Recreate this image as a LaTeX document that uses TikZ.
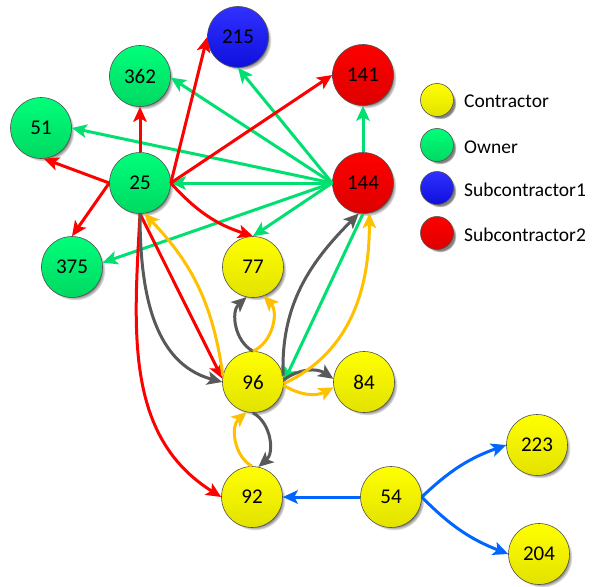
\documentclass[tikz,border=0pt]{standalone}
\usepackage{fontspec}
\setmainfont{Carlito}
\usetikzlibrary{arrows.meta,shadows,shapes.geometric}

\definecolor{cYel}{HTML}{FFFF00}
\definecolor{cYelD}{HTML}{E2E200}
\definecolor{cGrn}{HTML}{00FF7A}
\definecolor{cGrnD}{HTML}{00D862}
\definecolor{cBlu}{HTML}{3030FF}
\definecolor{cBluD}{HTML}{1010DD}
\definecolor{cRed}{HTML}{FF0000}
\definecolor{cRedD}{HTML}{DD0000}
\definecolor{eGrn}{HTML}{00E070}
\definecolor{eRed}{HTML}{FF0000}
\definecolor{eGry}{HTML}{595959}
\definecolor{eOrg}{HTML}{FFC000}
\definecolor{eBlu}{HTML}{0066FF}
\definecolor{rim}{HTML}{505050}

\tikzset{
  agent/.style={circle, minimum size=61pt, inner sep=0pt, draw=rim, line width=0.6pt,
    font=\fontsize{21}{21}\selectfont,
    circular drop shadow={shadow xshift=3pt, shadow yshift=-3pt, shadow scale=1.0}},
  contractor/.style={agent, top color=cYel, bottom color=cYelD},
  owner/.style={agent, top color=cGrn, bottom color=cGrnD},
  subone/.style={agent, top color=cBlu, bottom color=cBluD},
  subtwo/.style={agent, top color=cRed, bottom color=cRedD},
  keydot/.style={minimum size=33pt},
  keytext/.style={anchor=west, inner sep=0pt, font=\fontsize{19.5}{19.5}\selectfont},
  link/.style={line width=3pt, -{Stealth[length=15pt,width=13.5pt,inset=3.5pt]}},
  lgreen/.style={link, eGrn},
  lred/.style={link, eRed},
  lgray/.style={link, eGry},
  lorange/.style={link, eOrg},
  lblue/.style={link, eBlu},
}

\begin{document}
\begin{tikzpicture}[x=1pt,y=-1pt]
\useasboundingbox (0,0) rectangle (609,586);

% agents
\node[subone]     (n215) at (238,37)  {215};
\node[owner]      (n362) at (140,76)  {362};
\node[owner]      (n51)  at (41,128)  {51};
\node[owner]      (n25)  at (140,183) {25};
\node[owner]      (n375) at (72,267)  {375};
\node[contractor] (n77)  at (253,267) {77};
\node[subtwo]     (n141) at (363,75)  {141};
\node[subtwo]     (n144) at (363,183) {144};
\node[contractor] (n96)  at (253,382) {96};
\node[contractor] (n84)  at (364,382) {84};
\node[contractor] (n92)  at (252,497) {92};
\node[contractor] (n54)  at (391,497) {54};
\node[contractor] (n223) at (537,445) {223};
\node[contractor] (n204) at (539,554) {204};

% legend
\node[contractor, keydot] (k1) at (437,100) {};
\node[owner, keydot]      (k2) at (437,145) {};
\node[subone, keydot]     (k3) at (437,188) {};
\node[subtwo, keydot]     (k4) at (437,233) {};
\node[keytext] (t1) at (464,101) {Contractor};
\node[keytext] (t2) at (464,147) {Owner};
\node[keytext] (t3) at (464,190) {Subcontractor1};
\node[keytext] (t4) at (464,235) {Subcontractor2};

% owner links from 144
\draw[lgreen] (n144.west) -- (n215.south);
\draw[lgreen] (n144.west) -- (n362.-3);
\draw[lgreen] (n144.west) -- (n51.east);
\draw[lgreen] (n144.west) -- (n25.east);
\draw[lgreen] (n144.west) -- (n375.8);
\draw[lgreen] (n144.west) -- (n77.north);
\draw[lgreen] (n144.north) -- (n141.south);
\draw[lgreen] (n144.south) -- (n96.east);

% subcontractor2 links from 25
\draw[lred] (n25.east) -- (n215.west);
\draw[lred] (n25.east) -- (n141.west);
\draw[lred] (n25.north) -- (n362.south);
\draw[lred] (n25.west) -- (n51.-85);
\draw[lred] (n25.west) -- (n375.north);
\draw[lred] (n25.east) to[bend right=15] (n77.north);
\draw[lred] (n25.south) -- (n96.174);
\draw[lred] (n25.south) to[out=-93,in=148] (n92.west);

% gray links
\draw[lgray] (n25.south) to[out=-90,in=165] (n96.180);
\draw[lgray] (n96.north) to[bend left=55] (n77.-102);
\draw[lgray] (n96.12) to[out=92,in=-135] (n144.-98);
\draw[lgray] (n96.4) to[bend left=35] (n84.174);
\draw[lgray] (n96.south) to[bend left=55] (n92.78);

% orange links
\draw[lorange] (n96.168) to[bend right=18] (n25.-82);
\draw[lorange] (n96.north) to[bend right=55] (n77.-70);
\draw[lorange] (n96.-3) to[out=25,in=-90] (n144.-78);
\draw[lorange] (n96.-6) to[bend right=30] (n84.190);
\draw[lorange] (n92.north) to[bend left=55] (n96.-102);

% blue links from 54
\draw[lblue] (n54.west) -- (n92.east);
\draw[lblue] (n54.east) to[bend left=12] (n223.west);
\draw[lblue] (n54.east) to[bend right=12] (n204.west);
\end{tikzpicture}
\end{document}
